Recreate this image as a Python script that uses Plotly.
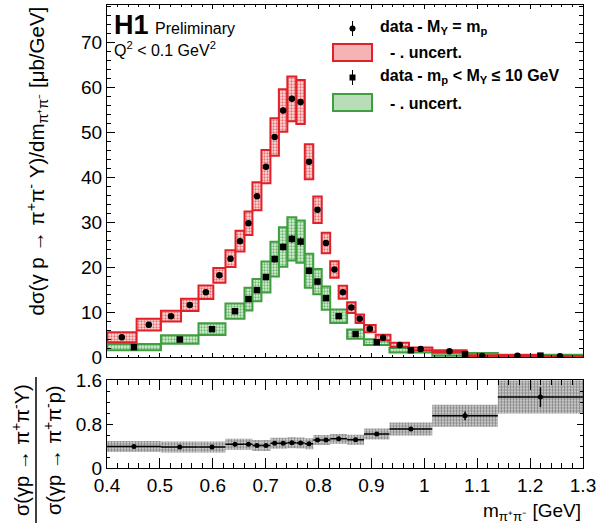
import numpy as np
import plotly.graph_objects as go

# ---------------- data ----------------
red_edges = [0.400, 0.456, 0.502, 0.540, 0.573, 0.601, 0.624, 0.643, 0.660, 0.675,
             0.692, 0.709, 0.725, 0.741, 0.758, 0.774, 0.790, 0.806, 0.822, 0.838,
             0.854, 0.870, 0.886, 0.908, 0.936, 0.971, 1.015, 1.080, 1.139, 1.213, 1.300]
red_vals = [4.4, 7.2, 9.1, 11.6, 14.4, 18.2, 21.9, 25.8, 29.8, 35.8,
            42.4, 49.0, 54.9, 57.5, 56.8, 43.5, 32.8, 25.4, 19.5, 14.4,
            11.0, 8.5, 6.3, 4.3, 2.7, 1.8, 1.3, 0.25, 0.3, 0.15]
red_sys = [1.1, 1.3, 1.2, 1.35, 1.5, 1.65, 1.85, 2.3, 2.6, 3.1,
           3.7, 4.2, 4.75, 5.0, 4.9, 3.9, 2.95, 2.3, 1.85, 1.45,
           1.2, 0.95, 0.8, 0.65, 0.5, 0.3, 0.2, 0.15, 0.15, 0.1]
red_stat = [0.3, 0.3, 0.3, 0.3, 0.3, 0.4, 0.4, 0.4, 0.5, 0.5,
            0.6, 0.6, 0.7, 0.7, 0.7, 0.6, 0.5, 0.5, 0.4, 0.4,
            0.3, 0.3, 0.3, 0.2, 0.2, 0.2, 0.2, 0.2, 0.3, 0.3]

green_edges = [0.400, 0.502, 0.573, 0.624, 0.660, 0.675, 0.692, 0.709, 0.725, 0.741,
               0.758, 0.774, 0.790, 0.806, 0.822, 0.854, 0.886, 0.934, 1.015, 1.139, 1.300]
green_vals = [2.2, 3.9, 6.2, 10.2, 12.9, 14.9, 17.8, 21.8, 24.5, 26.3,
              25.7, 19.2, 16.8, 13.1, 9.1, 5.1, 3.3, 1.5, 0.6, 0.3]
green_sys = [0.7, 0.95, 1.3, 1.7, 2.55, 2.5, 3.45, 3.85, 4.4, 4.8,
             4.7, 3.8, 2.8, 2.6, 1.5, 1.05, 0.65, 0.5, 0.3, 0.2]
green_stat = [0.2, 0.3, 0.4, 0.5, 0.6, 0.6, 0.7, 0.8, 0.8, 0.9,
              0.9, 0.8, 0.7, 0.6, 0.5, 0.4, 0.3, 0.2, 0.2, 0.2]

ratio_vals = [0.39, 0.38, 0.38, 0.43, 0.43, 0.41, 0.41, 0.45, 0.45, 0.46,
              0.455, 0.44, 0.51, 0.51, 0.53, 0.515, 0.62, 0.71, 0.95, 1.29]
ratio_sys = [0.1, 0.1, 0.1, 0.1, 0.1, 0.1, 0.1, 0.1, 0.1, 0.1,
             0.1, 0.1, 0.09, 0.09, 0.09, 0.09, 0.1, 0.12, 0.2, 0.3]
ratio_stat = [0.01, 0.01, 0.01, 0.01, 0.01, 0.01, 0.01, 0.01, 0.01, 0.01,
              0.01, 0.01, 0.01, 0.01, 0.01, 0.01, 0.015, 0.02, 0.08, 0.18]

x_ticks = [0.4, 0.5, 0.6, 0.7, 0.8, 0.9, 1.0, 1.1, 1.2, 1.3]
x_ticklabels = ["0.4", "0.5", "0.6", "0.7", "0.8", "0.9", "1", "1.1", "1.2", "1.3"]
ratio_ticks = [0, 0.8, 1.6]
ratio_ticklabels = ["0", "0.8", "1.6"]

# ---------------- derived ----------------
re = np.array(red_edges); ge = np.array(green_edges)
rc = (re[:-1] + re[1:]) / 2; rw = np.diff(re)
gc = (ge[:-1] + ge[1:]) / 2; gw = np.diff(ge)
rv = np.array(red_vals); rs = np.array(red_sys)
gv = np.array(green_vals); gs = np.array(green_sys)
qv = np.array(ratio_vals); qs = np.array(ratio_sys)

FONT = "Liberation Sans, Arial, Helvetica, sans-serif"
RED = "#e2202a"
GREEN = "#3f9e3f"

fig = go.Figure()

# green systematic boxes
fig.add_trace(go.Bar(
    x=gc, y=2 * gs, base=gv - gs, width=gw, xaxis="x", yaxis="y",
    marker=dict(color="#cfeacf", line=dict(color=GREEN, width=2),
                pattern=dict(shape=".", fgcolor="#6cb86c", bgcolor="#dcf0dc",
                             size=3, solidity=0.45)),
    showlegend=False, hoverinfo="skip"))
# red systematic boxes
fig.add_trace(go.Bar(
    x=rc, y=2 * rs, base=rv - rs, width=rw, xaxis="x", yaxis="y",
    marker=dict(color="#f7cfcf", line=dict(color=RED, width=2),
                pattern=dict(shape=".", fgcolor="#ec6f6f", bgcolor="#fbe0e0",
                             size=3, solidity=0.45)),
    showlegend=False, hoverinfo="skip"))
# data points
fig.add_trace(go.Scatter(
    x=rc, y=rv, mode="markers", xaxis="x", yaxis="y",
    marker=dict(symbol="circle", size=6.5, color="black"),
    error_y=dict(type="data", array=red_stat, color="black", thickness=1, width=0),
    showlegend=False))
fig.add_trace(go.Scatter(
    x=gc, y=gv, mode="markers", xaxis="x", yaxis="y",
    marker=dict(symbol="square", size=6.5, color="black"),
    error_y=dict(type="data", array=green_stat, color="black", thickness=1, width=0),
    showlegend=False))

# ratio panel
fig.add_trace(go.Bar(
    x=gc, y=2 * qs, base=qv - qs, width=gw, xaxis="x2", yaxis="y2",
    marker=dict(color="#d0d0d0", line=dict(width=0),
                pattern=dict(shape=".", fgcolor="#808080", bgcolor="#dcdcdc",
                             size=3, solidity=0.5)),
    showlegend=False, hoverinfo="skip"))
fig.add_trace(go.Scatter(
    x=gc, y=qv, mode="markers", xaxis="x2", yaxis="y2",
    marker=dict(symbol="circle", size=5, color="black"),
    error_x=dict(type="data", array=gw / 2, color="black", thickness=1.5, width=0),
    error_y=dict(type="data", array=ratio_stat, color="black", thickness=1.5, width=0),
    showlegend=False))

# ---------------- layout ----------------
L, R, T, B = 107, 583, 5, 468
W, H = 600, 527
PW, PH = R - L, B - T


def px(xp):
    return (xp - L) / PW


def py(yp):
    return (B - yp) / PH


up_bottom = py(357)
lo_top = py(379.5)

axis_common = dict(showline=True, linecolor="black", linewidth=1, mirror="allticks",
                   ticks="inside", showgrid=False, zeroline=False, automargin=False,
                   tickcolor="black", tickfont=dict(size=19, family=FONT, color="black"))

fig.update_layout(
    template="none",
    width=W, height=H,
    margin=dict(l=L, r=W - R, t=T, b=H - B, pad=0, autoexpand=False),
    paper_bgcolor="white", plot_bgcolor="white",
    barmode="overlay", showlegend=False,
    font=dict(family=FONT, color="black"),
    xaxis=dict(domain=[0, 1], range=[0.4, 1.3], anchor="y", showticklabels=False,
               tickvals=x_ticks, ticklen=4,
               minor=dict(dtick=0.02, tick0=0.4, ticklen=2, ticks="inside", tickcolor="black"),
               **axis_common),
    yaxis=dict(domain=[up_bottom, 1], range=[0, 78.4], anchor="x", dtick=10, tick0=0,
               ticklen=8,
               minor=dict(dtick=2, tick0=0, ticklen=4, ticks="inside", tickcolor="black"),
               **axis_common),
    xaxis2=dict(domain=[0, 1], range=[0.4, 1.3], anchor="y2",
                tickvals=x_ticks, ticktext=x_ticklabels, ticklen=10,
                minor=dict(dtick=0.02, tick0=0.4, ticklen=5, ticks="inside", tickcolor="black"),
                **axis_common),
    yaxis2=dict(domain=[0, lo_top], range=[0, 1.61], anchor="x2",
                tickvals=ratio_ticks, ticktext=ratio_ticklabels, ticklen=6,
                minor=dict(dtick=0.2, tick0=0, ticklen=3, ticks="inside", tickcolor="black"),
                **axis_common),
)

ann = []
shapes = []


def text(xp, yp, s, size, xanchor="left", yanchor="middle", angle=0):
    ann.append(dict(x=px(xp), y=py(yp), xref="paper", yref="paper", text=s,
                    showarrow=False, xanchor=xanchor, yanchor=yanchor, textangle=angle,
                    font=dict(size=size, family=FONT, color="black")))


# H1 label
text(112, 25, "<b>H1</b>", 27)
text(153, 29, "Preliminary", 16)
text(112, 49, "Q<sup>2</sup> &lt; 0.1 GeV<sup>2</sup>", 16)

# y titles
text(37, 5, "dσ(γ p → π<sup>+</sup>π<sup>-</sup> Y)/dm<sub>π⁺π⁻</sub> [μb/GeV]", 20.5,
     xanchor="center", yanchor="top", angle=-90)
text(20, 450, "σ(γp → π<sup>+</sup>π<sup>-</sup>Y)", 20, xanchor="center", yanchor="middle", angle=-90)
text(52, 450, "σ(γp → π<sup>+</sup>π<sup>-</sup>p)", 20, xanchor="center", yanchor="middle", angle=-90)
shapes.append(dict(type="line", xref="paper", yref="paper", x0=px(36), x1=px(36),
                   y0=py(377), y1=py(523), line=dict(color="black", width=1.5)))

# x title
text(583, 512, "m<sub>π⁺π⁻</sub> [GeV]", 19, xanchor="right")

# legend
def legend_marker(xc, yc, symbol):
    shapes.append(dict(type="line", xref="paper", yref="paper", x0=px(xc), x1=px(xc),
                       y0=py(yc - 7.5), y1=py(yc + 7.5), line=dict(color="black", width=1)))
    r = 3
    shapes.append(dict(type=symbol, xref="paper", yref="paper",
                       x0=px(xc - r), x1=px(xc + r), y0=py(yc - r), y1=py(yc + r),
                       fillcolor="black", line=dict(color="black", width=0)))


def legend_box(y0, y1, color, fill):
    shapes.append(dict(type="rect", xref="paper", yref="paper", x0=px(333), x1=px(372),
                       y0=py(y0), y1=py(y1), fillcolor=fill,
                       line=dict(color=color, width=2)))


legend_marker(352.5, 28.5, "circle")
text(378, 28, "<b>data - M<sub>Y</sub> = m<sub>p</sub></b>", 16)
legend_box(44, 61, RED, "#f4b4b4")
text(388, 52, "<b>- . uncert.</b>", 16)
legend_marker(352.5, 77.5, "rect")
text(378, 76, "<b>data - m<sub>p</sub> &lt; M<sub>Y</sub> ≤ 10 GeV</b>", 16)
legend_box(94, 111, GREEN, "#b8deb8")
text(388, 103, "<b>- . uncert.</b>", 16)

fig.update_layout(annotations=ann, shapes=shapes)

fig.write_html("out.html")
